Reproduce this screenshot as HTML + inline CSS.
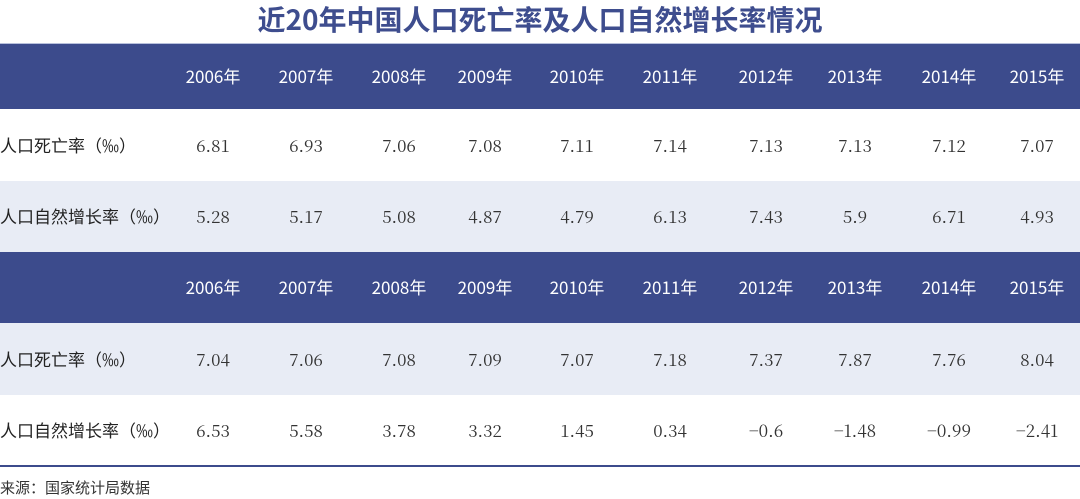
<!DOCTYPE html>
<html><head><meta charset="utf-8"><style>
body{margin:0;width:1080px;height:499px;background:#fff;position:relative;overflow:hidden;font-family:"Liberation Sans","Noto Sans CJK SC",sans-serif}
.t{position:absolute;left:0;width:1080px;top:0px;text-align:center;font-size:28px;font-weight:600;color:#3e4d8e;font-family:"Noto Sans CJK SC",sans-serif;line-height:38px}
.band{position:absolute;left:0;width:1080px}
.h{background:#3c4b8c}
.g{background:#e8ecf5}
.c{position:absolute;transform:translateX(-50%);white-space:nowrap}
.hy{color:#fff;font-size:17px;font-family:"Noto Sans CJK SC",sans-serif}
.v{color:#333;font-size:17px;font-family:"Noto Serif CJK SC","Liberation Serif",serif}
.l{position:absolute;left:0;color:#222;font-size:17px;font-family:"Noto Sans CJK SC",sans-serif;white-space:nowrap}
</style></head><body>
<div class="t">近20年中国人口死亡率及人口自然增长率情况</div>
<div class="band" style="top:43px;height:1px;background:#b8c0dc"></div>
<div class="band h" style="top:44px;height:65px"></div>
<div class="band g" style="top:181px;height:71px"></div>
<div class="band h" style="top:252px;height:71px"></div>
<div class="band g" style="top:323px;height:72px"></div>
<div class="band" style="top:465px;height:2px;background:#3c4b8c"></div>
<div id="c"></div>
<div class="l" style="top:132px">人口死亡率（‰）</div>
<div class="l" style="top:203px">人口自然增长率（‰）</div>
<div class="l" style="top:346px">人口死亡率（‰）</div>
<div class="l" style="top:417px">人口自然增长率（‰）</div>
<div class="l" style="top:477px;font-size:15px;color:#333">来源：国家统计局数据</div>
<script>
var xs=[213,306,399,485,577,670,766,855,949,1037];
var rows=[
[63,'hy',['2006年','2007年','2008年','2009年','2010年','2011年','2012年','2013年','2014年','2015年']],
[132,'v',['6.81','6.93','7.06','7.08','7.11','7.14','7.13','7.13','7.12','7.07']],
[203,'v',['5.28','5.17','5.08','4.87','4.79','6.13','7.43','5.9','6.71','4.93']],
[274,'hy',['2006年','2007年','2008年','2009年','2010年','2011年','2012年','2013年','2014年','2015年']],
[346,'v',['7.04','7.06','7.08','7.09','7.07','7.18','7.37','7.87','7.76','8.04']],
[417,'v',['6.53','5.58','3.78','3.32','1.45','0.34','−0.6','−1.48','−0.99','−2.41']]];
var h='';
rows.forEach(function(r){r[2].forEach(function(s,i){h+='<div class="c '+r[1]+'" style="left:'+xs[i]+'px;top:'+r[0]+'px">'+s+'</div>';});});
document.getElementById('c').innerHTML=h;
</script>
</body></html>
